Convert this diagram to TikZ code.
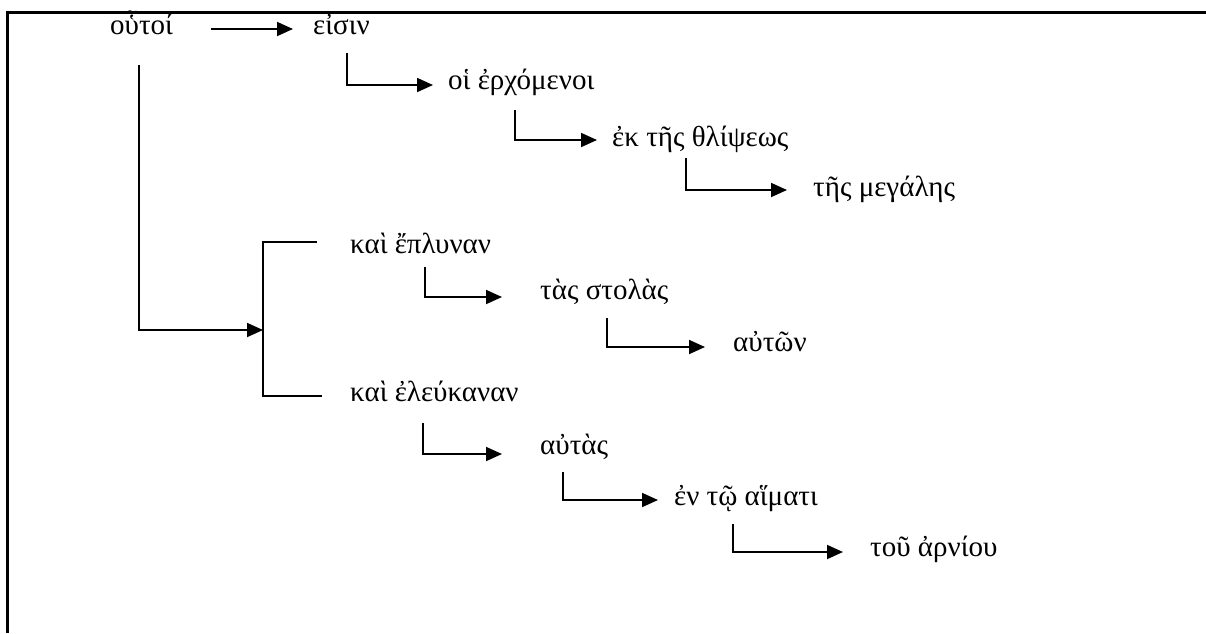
\documentclass[tikz,border=0pt]{standalone}
\usepackage{fontspec}
\setmainfont{Liberation Serif}
\usetikzlibrary{arrows.meta}

\begin{document}
\begin{tikzpicture}[x=1pt, y=-1pt, >={Triangle[length=16pt,width=14pt]},
  word/.style={anchor=base west, inner sep=0pt, font=\fontsize{29}{34}\selectfont},
  link/.style={line width=1.8pt}]
\useasboundingbox (0,0) rectangle (1206,633);
\draw [line width=3pt] (1206,12) -- (7,12) -- (7,633);
% the words
\node [word] (houtoi) at (110,34) {οὗτοί};
\node [word] (eisin) at (313,34) {εἰσιν};
\node [word] (erchomenoi) at (448,89) {οἱ ἐρχόμενοι};
\node [word] (thlipseos) at (612,146) {ἐκ τῆς θλίψεως};
\node [word] (megales) at (813,196) {τῆς μεγάλης};
\node [word] (eplunan) at (350,253) {καὶ ἔπλυναν};
\node [word] (stolas) at (540,299) {τὰς στολὰς};
\node [word] (auton) at (733,351) {αὐτῶν};
\node [word] (eleukanan) at (350,401) {καὶ ἐλεύκαναν};
\node [word] (autas) at (540,454) {αὐτὰς};
\node [word] (haimati) at (674,505) {ἐν τῷ αἵματι};
\node [word] (arniou) at (870,556) {τοῦ ἀρνίου};
\coordinate (fork) at (263,330);
% the links
\draw [link,->] ([shift={(38pt,5pt)}]houtoi.base east) -- ([shift={(-20pt,5pt)}]eisin.base west);
\draw [link,->] ([shift={(34pt,-19pt)}]eisin.base west) |- ([shift={(-15pt,4pt)}]erchomenoi.base west);
\draw [link,->] ([shift={(67pt,-21pt)}]erchomenoi.base west) |- ([shift={(-15pt,6pt)}]thlipseos.base west);
\draw [link,->] ([shift={(74pt,-12pt)}]thlipseos.base west) |- ([shift={(-26pt,6pt)}]megales.base west);
\draw [link,->] ([shift={(29pt,-31pt)}]houtoi.base west) |- (fork);
\draw [link] ([shift={(-33pt,11pt)}]eplunan.base west) -| (fork) |- ([shift={(-28pt,5pt)}]eleukanan.base west);
\draw [link,->] ([shift={(75pt,-14pt)}]eplunan.base west) |- ([shift={(-38pt,2pt)}]stolas.base west);
\draw [link,->] ([shift={(67pt,-19pt)}]stolas.base west) |- ([shift={(-28pt,4pt)}]auton.base west);
\draw [link,->] ([shift={(73pt,-22pt)}]eleukanan.base west) |- ([shift={(-38pt,0pt)}]autas.base west);
\draw [link,->] ([shift={(23pt,-18pt)}]autas.base west) |- ([shift={(-16pt,5pt)}]haimati.base west);
\draw [link,->] ([shift={(59pt,-19pt)}]haimati.base west) |- ([shift={(-27pt,4pt)}]arniou.base west);
\end{tikzpicture}
\end{document}
